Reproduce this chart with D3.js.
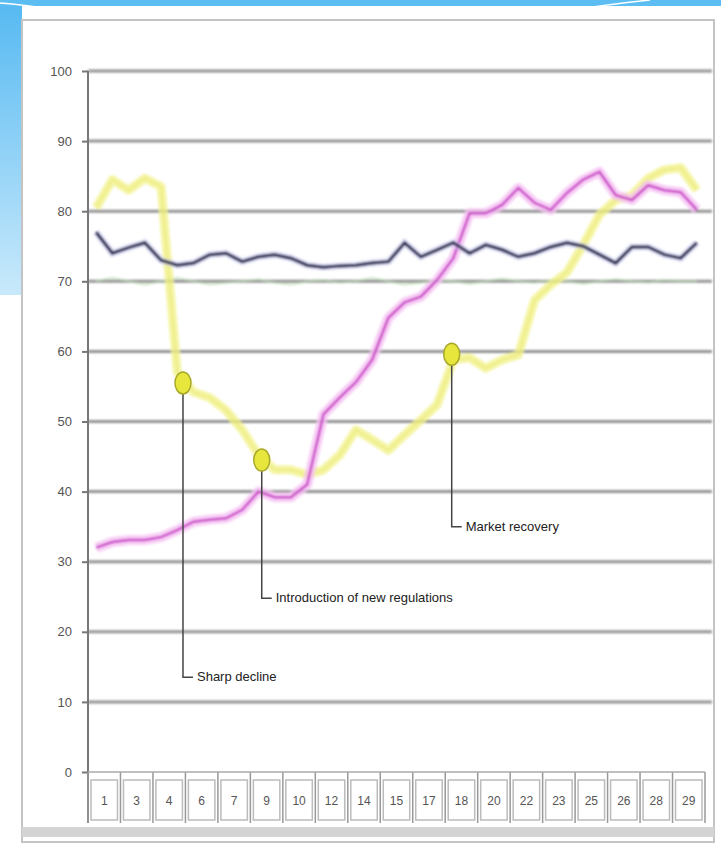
<!DOCTYPE html>
<html>
<head>
<meta charset="utf-8">
<script src="https://cdn.jsdelivr.net/npm/d3@7"></script>
<style>
  body { margin: 0; background: #fff; }
  svg { display: block; font-family: "Liberation Sans", Arial, sans-serif; }
</style>
</head>
<body>
<div id="chart"></div>
<script>
// tick labels shown in the boxes under the axis (one box per two points)
const tickLabels = ['1', '3', '4', '6', '7', '9', '10', '12', '14', '15', '17', '18', '20', '22', '23', '25', '26', '28', '29'];
const yTicks = [0, 10, 20, 30, 40, 50, 60, 70, 80, 90, 100];

// 38 points per series
const yellowVals = [80.5, 84.5, 83, 84.7, 83.5, 57, 54.2, 53.4, 51.6, 48.8, 45.2, 43.1, 43.1, 42.4, 43.1, 45.2, 48.8, 47.4, 45.9, 48.1,
  50.2, 52.4, 58.8, 59.1, 57.6, 58.8, 59.5, 67.3, 69.5, 71.3, 75.2, 79.5, 81.6, 82.3, 84.7, 85.9, 86.2, 83];
const darkVals = [77, 74, 74.8, 75.5, 73, 72.3, 72.6, 73.8, 74, 72.8, 73.5, 73.8, 73.3, 72.3, 72, 72.2, 72.3, 72.6, 72.8, 75.5,
  73.5, 74.5, 75.5, 74, 75.2, 74.5, 73.5, 74, 74.9, 75.5, 75, 73.8, 72.6, 74.9, 74.9, 73.8, 73.3, 75.5];
const magentaVals = [32, 32.8, 33.1, 33.1, 33.5, 34.5, 35.7, 36, 36.2, 37.4, 40, 39.2, 39.2, 41, 51, 53.4, 55.6, 58.8, 64.8, 67,
  67.8, 70.2, 73.3, 79.7, 79.7, 80.9, 83.3, 81.2, 80.2, 82.6, 84.5, 85.6, 82.3, 81.6, 83.7, 83, 82.7, 80.2];
const paleVals = [70, 70.5, 70, 69.5, 70, 70.5, 70, 69.5, 69.8, 70, 70.3, 69.8, 69.5, 70, 70.2, 69.8, 70, 70.5, 70, 69.5,
  69.8, 70.2, 70, 69.6, 70, 70.4, 70, 69.8, 70.2, 70, 69.6, 70, 70.3, 70, 69.8, 70.2, 70, 70];

// event callouts: position on the x index, marker value, label value
const events = [
  { text: 'Sharp decline', at: 5.35, value: 55.5, labelValue: 13.5 },
  { text: 'Introduction of new regulations', at: 10.2, value: 44.5, labelValue: 24.8 },
  { text: 'Market recovery', at: 21.9, value: 59.6, labelValue: 35 }
];

const width = 721;
const height = 851;
const plotLeft = 88, plotRight = 705, plotTop = 71, plotBottom = 772;

const svg = d3.select('#chart').append('svg')
  .attr('width', width)
  .attr('height', height);

const defs = svg.append('defs');
const grad = defs.append('linearGradient').attr('id', 'side')
  .attr('x1', 0).attr('y1', 0).attr('x2', 0).attr('y2', 1);
grad.append('stop').attr('offset', '0%').attr('stop-color', '#55b9f2');
grad.append('stop').attr('offset', '100%').attr('stop-color', '#c9e9fb');
defs.append('filter').attr('id', 'soft')
  .append('feGaussianBlur').attr('stdDeviation', 0.9);

// slide decoration
svg.append('rect').attr('x', 0).attr('y', 0).attr('width', 22).attr('height', 295).attr('fill', 'url(#side)');
svg.append('rect').attr('x', 0).attr('y', 0).attr('width', width).attr('height', 6).attr('fill', '#5bbdf2');
svg.append('path').attr('d', 'M0,3 Q40,6 60,12').attr('stroke', '#fff').attr('stroke-width', 1.5).attr('fill', 'none');
svg.append('path').attr('d', 'M560,12 Q610,4 650,0').attr('stroke', '#fff').attr('stroke-width', 1.5).attr('fill', 'none');

// chart frame
svg.append('rect').attr('x', 22).attr('y', 20).attr('width', 692).attr('height', 822)
  .attr('fill', '#fff').attr('stroke', '#c4c4c4').attr('stroke-width', 2);
svg.append('rect').attr('x', 22).attr('y', 827).attr('width', 692).attr('height', 10).attr('fill', '#d4d4d4');

const x = d3.scaleBand().domain(d3.range(38)).range([plotLeft, plotRight]);
const xi = d3.scaleLinear().domain([0, 37]).range([x(0) + x.bandwidth() / 2, x(37) + x.bandwidth() / 2]);
const xBox = d3.scaleBand().domain(tickLabels).range([plotLeft, plotRight]);
const y = d3.scaleLinear().domain([0, 100]).range([plotBottom, plotTop]);

const plot = svg.append('g').attr('filter', 'url(#soft)');

// gridlines
plot.selectAll('.grid').data(yTicks.filter(d => d > 0)).enter().append('line')
  .attr('x1', plotLeft).attr('x2', 712)
  .attr('y1', d => y(d)).attr('y2', d => y(d))
  .attr('stroke', '#939393').attr('stroke-width', 3);

// y axis
const yAxis = svg.append('g').attr('transform', `translate(${plotLeft},0)`)
  .call(d3.axisLeft(y).tickValues(yTicks).tickSize(6).tickPadding(10));
yAxis.select('.domain').remove();
yAxis.selectAll('line').attr('stroke', '#777').attr('stroke-width', 2);
yAxis.selectAll('text').attr('fill', '#555').attr('font-size', 13);
svg.append('line').attr('x1', plotLeft).attr('x2', plotLeft).attr('y1', plotTop).attr('y2', 823)
  .attr('stroke', '#777').attr('stroke-width', 2);

// category boxes
const boxes = svg.append('g');
boxes.selectAll('rect').data(tickLabels).enter().append('rect')
  .attr('x', d => xBox(d) + 3).attr('y', 780)
  .attr('width', xBox.bandwidth() - 6).attr('height', 40)
  .attr('fill', '#fff').attr('stroke', '#bbb').attr('stroke-width', 1.5);
boxes.selectAll('line').data(tickLabels.concat(['end'])).enter().append('line')
  .attr('x1', (d, i) => plotLeft + i * xBox.bandwidth()).attr('x2', (d, i) => plotLeft + i * xBox.bandwidth())
  .attr('y1', plotBottom).attr('y2', 823)
  .attr('stroke', '#999').attr('stroke-width', 1.5);
boxes.selectAll('text').data(tickLabels).enter().append('text')
  .attr('x', d => xBox(d) + xBox.bandwidth() / 2).attr('y', 805)
  .attr('text-anchor', 'middle').attr('font-size', 12).attr('fill', '#555')
  .text(d => d);
svg.append('line').attr('x1', plotLeft).attr('x2', plotRight).attr('y1', plotBottom).attr('y2', plotBottom)
  .attr('stroke', '#aaa').attr('stroke-width', 1.5);

const line = d3.line().x((d, i) => xi(i)).y(d => y(d));

// faint background series
plot.append('path').attr('d', line(paleVals)).attr('fill', 'none')
  .attr('stroke', '#b9dcb0').attr('stroke-width', 2).attr('opacity', 0.6);

// yellow series
plot.append('path').attr('d', line(yellowVals)).attr('fill', 'none')
  .attr('stroke', '#f2f28a').attr('stroke-width', 9).attr('stroke-linejoin', 'round').attr('opacity', 0.75);
plot.append('path').attr('d', line(yellowVals)).attr('fill', 'none')
  .attr('stroke', '#e6e65e').attr('stroke-width', 2).attr('opacity', 0.5);

// magenta series
plot.append('path').attr('d', line(magentaVals)).attr('fill', 'none')
  .attr('stroke', '#f6c2f4').attr('stroke-width', 10).attr('stroke-linejoin', 'round').attr('opacity', 0.8);
plot.append('path').attr('d', line(magentaVals)).attr('fill', 'none')
  .attr('stroke', '#c940c6').attr('stroke-width', 2.5);

// dark series
plot.append('path').attr('d', line(darkVals)).attr('fill', 'none')
  .attr('stroke', '#c8c8f0').attr('stroke-width', 7).attr('opacity', 0.6);
plot.append('path').attr('d', line(darkVals)).attr('fill', 'none')
  .attr('stroke', '#2a2a4a').attr('stroke-width', 3);

// callouts
const ev = svg.append('g');
ev.selectAll('.lead').data(events).enter().append('path')
  .attr('d', d => `M${xi(d.at)},${y(d.value)} V${y(d.labelValue)} H${xi(d.at) + 10}`)
  .attr('fill', 'none').attr('stroke', '#444').attr('stroke-width', 1.5);
ev.selectAll('ellipse').data(events).enter().append('ellipse')
  .attr('cx', d => xi(d.at)).attr('cy', d => y(d.value))
  .attr('rx', 8).attr('ry', 11)
  .attr('fill', '#e6e63c').attr('stroke', '#a8a82a').attr('stroke-width', 1.5);
ev.selectAll('text').data(events).enter().append('text')
  .attr('x', d => xi(d.at) + 14).attr('y', d => y(d.labelValue) + 4)
  .attr('font-size', 13).attr('fill', '#222')
  .text(d => d.text);
</script>
</body>
</html>
